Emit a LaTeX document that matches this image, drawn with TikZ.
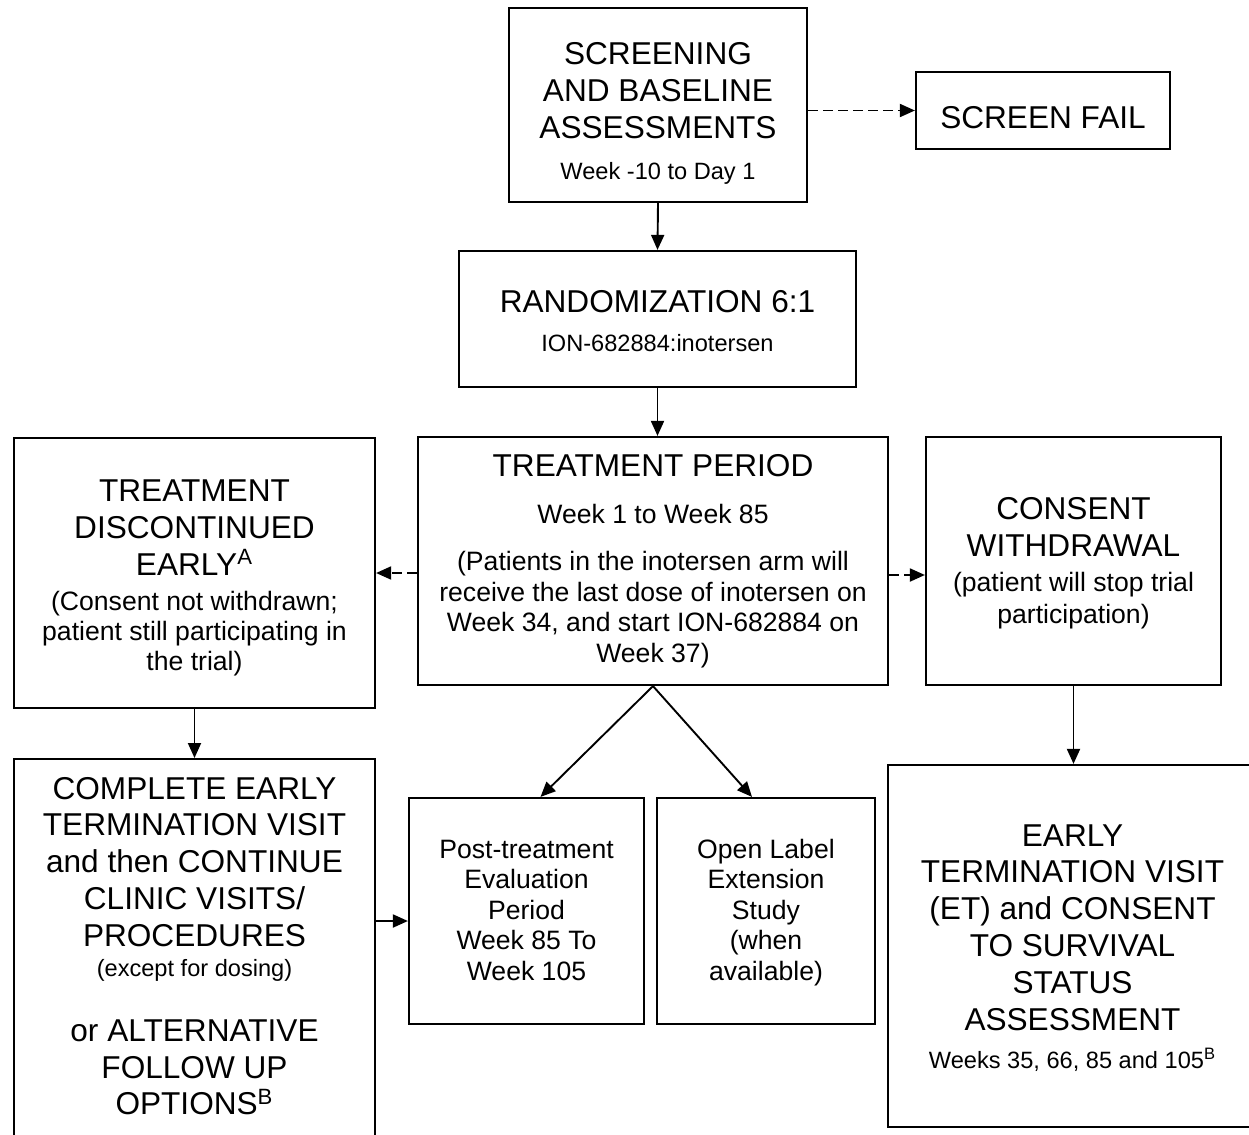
\documentclass[tikz,border=0pt]{standalone}
\usepackage{fontspec}
\setmainfont{Liberation Sans}
\usetikzlibrary{arrows.meta}
%
% font sizes used in the boxes
\newcommand\bigtxt{\fontsize{15.8pt}{18.4pt}\selectfont}
\newcommand\medtxt{\fontsize{13.3pt}{15.2pt}\selectfont}
\newcommand\smalltxt{\fontsize{11.8pt}{14pt}\selectfont}

\begin{document}
\begin{tikzpicture}[x=0.5pt,y=-0.5pt,
  stage/.style={draw,line width=1.1pt,inner sep=0pt,align=center,font=\bigtxt},
  flow/.style={line width=0.95pt,-{Triangle[length=7.5pt,width=6.5pt]}},
  dashflow/.style={flow,dash pattern=on 5pt off 2.5pt}]
%
\useasboundingbox (0,0) rectangle (1249,1135);
%
% top row (text height/depth place the last baseline inside each box)
\node[stage,minimum width=149pt,text height=85.5pt,text depth=11.5pt] (screen) at (658,105)
  {SCREENING\\AND BASELINE\\ASSESSMENTS\\[2.1pt]\smalltxt Week -10 to Day 1};
\node[stage,minimum width=127pt,text height=28pt,text depth=10.5pt] (fail) at (1043,110.5) {SCREEN FAIL};
\node[stage,minimum width=198.5pt,text height=50pt,text depth=18pt] (rand) at (657.5,319)
  {RANDOMIZATION 6:1\\[1.1pt]\smalltxt ION-682884:inotersen};
%
% treatment row
\node[stage,font=\medtxt,minimum width=235pt,text height=112.5pt,text depth=11.5pt] (treat) at (653,561)
  {\bigtxt TREATMENT PERIOD\\[8.3pt]Week 1 to Week 85\\[8.3pt](Patients in the inotersen arm will\\receive the last dose of inotersen on\\Week 34, and start ION-682884 on\\Week 37)};
\node[stage,minimum width=180.5pt,text height=116pt,text depth=19pt] (disc) at (194.5,573)
  {TREATMENT\\DISCONTINUED\\EARLY\textsuperscript{A}\\[-0.9pt]\medtxt (Consent not withdrawn;\\[-3.4pt]\medtxt patient still participating in\\[-3.4pt]\medtxt the trial)};
\node[stage,minimum width=147.5pt,text height=93pt,text depth=31pt] (cons) at (1073.5,561)
  {CONSENT\\WITHDRAWAL\\[-0.9pt]\medtxt (patient will stop trial\\[-2.4pt]\medtxt participation)};
%
% bottom row
\node[stage,anchor=north,minimum width=180.5pt,inner ysep=9pt,text depth=10pt] (compl) at (194.5,758)
  {COMPLETE EARLY\\TERMINATION VISIT\\and then CONTINUE\\CLINIC VISITS/\\PROCEDURES\\[-3.4pt]\smalltxt (except for dosing)\\[14.1pt]or ALTERNATIVE\\FOLLOW UP\\OPTIONS\textsuperscript{B}};
\node[stage,font=\medtxt,minimum width=117.5pt,text height=91pt,text depth=22pt] (post) at (526.5,911)
  {Post-treatment\\Evaluation\\Period\\Week 85 To\\Week 105};
\node[stage,font=\medtxt,minimum width=109pt,text height=91pt,text depth=22pt] (ole) at (766,911)
  {Open Label\\Extension\\Study\\(when\\available)};
\node[stage,minimum width=184.5pt,text height=151.5pt,text depth=29.5pt] (et) at (1072.5,946)
  {EARLY\\TERMINATION VISIT\\(ET) and CONSENT\\TO SURVIVAL\\STATUS\\ASSESSMENT\\[0.6pt]\smalltxt Weeks 35, 66, 85 and 105\textsuperscript{B}};
%
% connectors
\draw[dashflow] (screen.east |- fail.west) -- (fail.west);
\draw[flow] (screen.south) -- (rand.north);
\draw[flow] (rand.south) -- (rand.south |- treat.north);
\draw[dashflow] (treat.west |- disc.east) -- (disc.east);
\draw[dashflow] ([yshift=-7pt]treat.east) -- ([yshift=-7pt]cons.west);
\draw[flow] (disc.south) -- (compl.north);
\draw[flow] (treat.south) -- ([xshift=7pt]post.north);
\draw[flow] (treat.south) -- ([xshift=-7pt]ole.north);
\draw[flow] (cons.south) -- (cons.south |- et.north);
\coordinate (cj) at ([yshift=-5pt]post.west);
\draw[flow] (compl.east |- cj) -- (cj);
%
\end{tikzpicture}
\end{document}
